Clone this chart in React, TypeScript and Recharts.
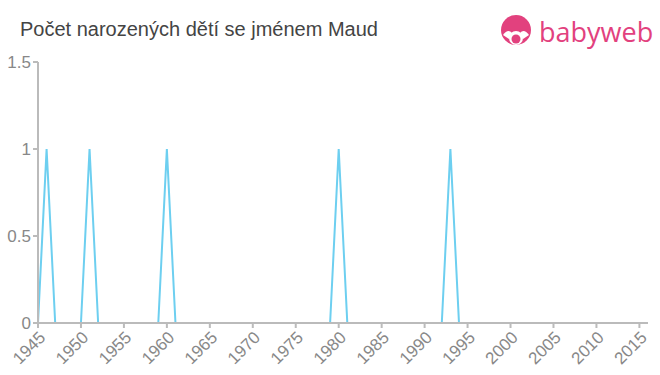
import { LineChart, Line, XAxis, YAxis, CartesianGrid } from 'recharts'

const years: number[] = []
for (let y = 1945; y <= 2016; y++) years.push(y)

const peakYears = [1946, 1951, 1960, 1980, 1993]
const births = years.map(y => (peakYears.includes(y) ? 1 : 0))

const xTicks = [1945, 1950, 1955, 1960, 1965, 1970, 1975, 1980, 1985, 1990, 1995, 2000, 2005, 2010, 2015]
const yTicks = [0, 0.5, 1, 1.5]

const data = years.map((year, i) => ({ year, count: births[i] }))

const font = '"Liberation Sans", Arial, sans-serif'

function Logo() {
  return (
    <div style={{ position: 'absolute', left: 500, top: 13, display: 'flex', alignItems: 'center' }}>
      <svg width={32} height={34} viewBox="0 0 32 34">
        <circle cx={16} cy={15} r={15} fill="#e2417e" />
        <circle cx={16} cy={23} r={7} fill="#fff" />
        <circle cx={16} cy={24} r={4.5} fill="#e2417e" />
        <path d="M3 20 Q8 13 12 18 L9 24 Z" fill="#fff" />
        <path d="M29 20 Q24 13 20 18 L23 24 Z" fill="#fff" />
      </svg>
      <span style={{ fontFamily: '"Open Sans", "Liberation Sans", sans-serif', fontSize: 27, color: '#e2417e', marginLeft: 7 }}>
        babyweb
      </span>
    </div>
  )
}

export default function App() {
  return (
    <div style={{ position: 'fixed', left: 0, top: 0, width: 660, height: 375, background: '#fff', fontFamily: font }}>
      <div style={{ position: 'absolute', left: 20, top: 18, fontSize: 20, color: '#444' }}>
        Počet narozených dětí se jménem Maud
      </div>
      <Logo />
      <LineChart width={660} height={375} data={data} margin={{ top: 62, right: 12, left: 0, bottom: 0 }}>
        <CartesianGrid stroke="none" />
        <XAxis
          dataKey="year"
          type="number"
          domain={[1945, 2016]}
          ticks={xTicks}
          interval={0}
          angle={-45}
          textAnchor="end"
          height={52}
          tick={{ fontSize: 17, fill: '#888', fontFamily: font }}
          stroke="#bbb"
          strokeWidth={2}
          tickSize={5}
        />
        <YAxis
          domain={[0, 1.5]}
          ticks={yTicks}
          width={38}
          tick={{ fontSize: 17, fill: '#888', fontFamily: font }}
          stroke="#bbb"
          strokeWidth={2}
          tickSize={5}
          tickFormatter={(v: number) => String(v)}
        />
        <Line
          type="linear"
          dataKey="count"
          stroke="#6dcff0"
          strokeWidth={2}
          dot={false}
          isAnimationActive={false}
        />
      </LineChart>
    </div>
  )
}
